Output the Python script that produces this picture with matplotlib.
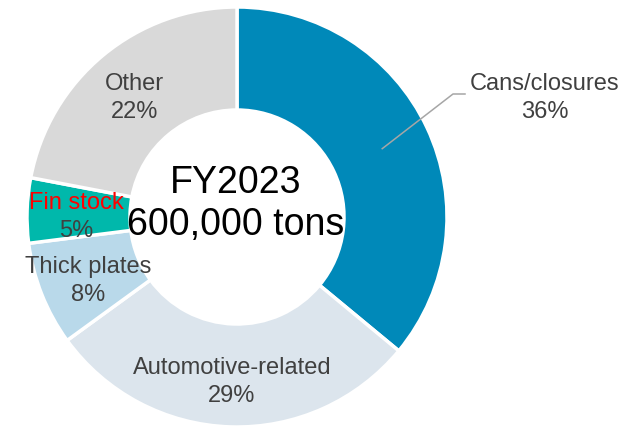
import numpy as np
import matplotlib.pyplot as plt

plt.rcParams['font.family'] = ['Liberation Sans', 'DejaVu Sans']

categories = ['Cans/closures', 'Automotive-related', 'Thick plates', 'Fin stock', 'Other']
shares = [36, 29, 8, 5, 22]
colors = ['#0089b9', '#dce5ed', '#b9d9ea', '#00b8ab', '#d9d9d9']
label_colors = ['#404040', '#404040', '#404040', '#ff0000', '#404040']
center_title = 'FY2023\n600,000 tons'

W, H = 641, 429
CX, CY = 237, H - 217
R_OUT, R_IN = 210, 107
TEXT = '#404040'

fig = plt.figure(figsize=(W / 100, H / 100), dpi=100)
ax = fig.add_axes([0, 0, 1, 1])

wedges, _ = ax.pie(shares, colors=colors, startangle=90, counterclock=False,
                   radius=R_OUT, center=(CX, CY),
                   wedgeprops=dict(width=R_OUT - R_IN, edgecolor='white', linewidth=2.5))
ax.set_xlim(0, W)
ax.set_ylim(0, H)
ax.set_aspect('equal')
ax.axis('off')

r_mid = (R_OUT + R_IN) / 2 + 2
for w, name, pct, lc in zip(wedges, categories, shares, label_colors):
    ang = np.deg2rad((w.theta1 + w.theta2) / 2)
    x = CX + r_mid * np.cos(ang)
    y = CY + r_mid * np.sin(ang) - 5
    if name == 'Cans/closures':
        # outside label with an elbow leader line
        ex, ey = CX + 216, CY + 123
        ax.plot([x, ex, ex + 12], [y + 5, ey, ey], color='#a6a6a6', lw=1.1)
        ax.text(ex + 92, ey + 10, name, ha='center', va='center', fontsize=17, color=lc)
        ax.text(ex + 92, ey - 18, f'{pct}%', ha='center', va='center', fontsize=17, color=TEXT)
    else:
        ax.text(x, y + 14, name, ha='center', va='center', fontsize=17, color=lc)
        ax.text(x, y - 14, f'{pct}%', ha='center', va='center', fontsize=17, color=TEXT)

ax.text(CX - 1, CY + 13, center_title, ha='center', va='center', fontsize=27,
        color='black', linespacing=1.2)

fig.savefig('out.png', dpi=100)
